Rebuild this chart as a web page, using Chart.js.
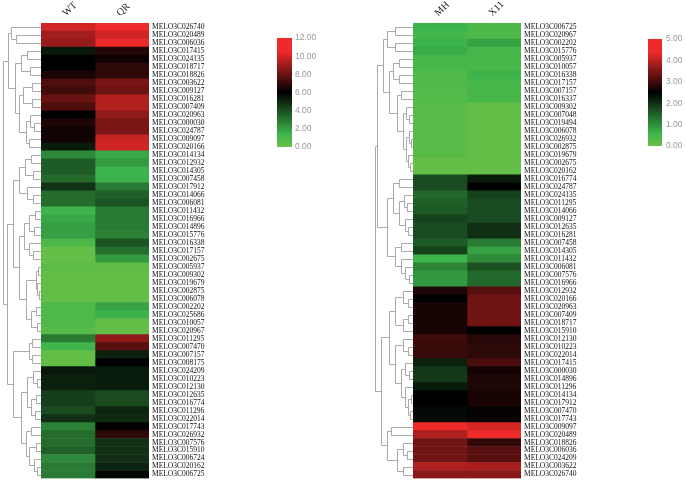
<!DOCTYPE html>
<html>
<head>
<meta charset="utf-8">
<script src="https://cdn.jsdelivr.net/npm/chart.js@4.4.1/dist/chart.umd.min.js"></script>
<style>
  html, body { margin: 0; padding: 0; background: #fff; width: 685px; height: 486px; overflow: hidden; }
  .box { position: absolute; }
</style>
</head>
<body>
<div class="box" style="left:0;top:0;width:260px;height:486px"><canvas id="heatL"></canvas></div>
<div class="box" style="left:372px;top:0;width:260px;height:486px"><canvas id="heatR"></canvas></div>
<div class="box" style="left:262px;top:30px;width:70px;height:125px"><canvas id="barL"></canvas></div>
<div class="box" style="left:633px;top:30px;width:52px;height:125px"><canvas id="barR"></canvas></div>
<script>
// 左图：WT / QR
const leftRows = ['MELO3C026740','MELO3C020489','MELO3C006036','MELO3C017415','MELO3C024135','MELO3C018717','MELO3C018826','MELO3C003622','MELO3C009127','MELO3C016281',
  'MELO3C007409','MELO3C020963','MELO3C000030','MELO3C024787','MELO3C009097','MELO3C020166','MELO3C014134','MELO3C012932','MELO3C014305','MELO3C007458',
  'MELO3C017912','MELO3C014066','MELO3C006081','MELO3C011432','MELO3C016966','MELO3C014896','MELO3C015776','MELO3C016338','MELO3C017157','MELO3C002675',
  'MELO3C005937','MELO3C009302','MELO3C019679','MELO3C002875','MELO3C006078','MELO3C002202','MELO3C025686','MELO3C010057','MELO3C020967','MELO3C011295',
  'MELO3C007470','MELO3C007157','MELO3C008175','MELO3C024209','MELO3C010223','MELO3C012130','MELO3C012635','MELO3C016774','MELO3C011296','MELO3C022014',
  'MELO3C017743','MELO3C026932','MELO3C007576','MELO3C015910','MELO3C006724','MELO3C020162','MELO3C006725'];
const leftCols = ['WT', 'QR'];
const wtVals = [10.0, 9.1, 8.9, 5.4, 6.0, 6.0, 6.5, 7.5, 7.2, 8.0,
  7.5, 6.0, 6.6, 6.3, 6.3, 5.3, 2.5, 3.7, 3.7, 3.3,
  4.7, 3.3, 3.3, 1.4, 1.75, 1.95, 1.95, 1.0, 0.2, 0.2,
  0.5, 0.3, 0.3, 0.3, 0.3, 0.9, 0.9, 0.9, 0.7, 2.9,
  1.3, 0.3, 0.3, 5.4, 5.2, 5.2, 4.4, 4.4, 4.1, 4.8,
  2.7, 3.3, 3.3, 3.6, 2.5, 2.9, 2.9];
const qrVals = [11.5, 10.0, 11.8, 6.7, 6.3, 6.9, 6.9, 8.3, 8.1, 9.4,
  9.4, 8.75, 8.3, 8.3, 9.8, 10.0, 1.75, 2.1, 1.4, 1.4,
  2.9, 3.6, 3.9, 2.9, 2.9, 2.9, 2.7, 3.9, 3.2, 2.1,
  0.4, 0.3, 0.3, 0.3, 0.3, 1.9, 1.5, 0.3, 0.3, 8.75,
  7.7, 5.2, 6.0, 5.3, 5.3, 5.3, 4.1, 4.1, 5.1, 4.9,
  6.0, 6.9, 4.8, 4.8, 4.8, 5.1, 5.8];
const leftTicks = [0, 2, 4, 6, 8, 10, 12];

// 右图：MH / X11
const rightRows = ['MELO3C006725','MELO3C020967','MELO3C002202','MELO3C015776','MELO3C005937','MELO3C010057','MELO3C016338','MELO3C017157','MELO3C007157','MELO3C016337',
  'MELO3C009302','MELO3C007048','MELO3C019494','MELO3C006078','MELO3C026932','MELO3C002875','MELO3C019679','MELO3C002675','MELO3C020162','MELO3C016774',
  'MELO3C024787','MELO3C024135','MELO3C011295','MELO3C014066','MELO3C009127','MELO3C012635','MELO3C016281','MELO3C007458','MELO3C014305','MELO3C011432',
  'MELO3C006081','MELO3C007576','MELO3C016966','MELO3C012932','MELO3C020166','MELO3C020963','MELO3C007409','MELO3C018717','MELO3C015910','MELO3C012130',
  'MELO3C010223','MELO3C022014','MELO3C017415','MELO3C000030','MELO3C014896','MELO3C011296','MELO3C014134','MELO3C017912','MELO3C007470','MELO3C017743',
  'MELO3C009097','MELO3C020489','MELO3C018826','MELO3C006036','MELO3C024209','MELO3C003622','MELO3C026740'];
const rightCols = ['MH', 'X11'];
const mhVals = [0.6, 0.5, 0.6, 0.7, 0.45, 0.45, 0.35, 0.35, 0.3, 0.3,
  0.25, 0.25, 0.25, 0.25, 0.25, 0.25, 0.25, 0.1, 0.1, 1.7,
  1.7, 1.4, 1.5, 1.55, 1.8, 1.7, 1.7, 1.55, 1.8, 0.6,
  1.1, 0.9, 0.9, 2.75, 2.5, 2.7, 2.7, 2.7, 2.7, 3.0,
  2.95, 2.95, 2.15, 1.9, 1.9, 2.2, 2.5, 2.5, 2.4, 2.4,
  4.5, 3.9, 3.4, 3.4, 3.4, 3.9, 3.6];
const x11Vals = [0.4, 0.4, 0.8, 0.5, 0.45, 0.45, 0.6, 0.5, 0.45, 0.45,
  0.12, 0.12, 0.12, 0.12, 0.12, 0.12, 0.12, 0.1, 0.1, 2.2,
  2.5, 1.8, 1.7, 1.7, 1.7, 2.0, 2.0, 1.2, 0.8, 1.05,
  1.65, 1.4, 1.4, 3.2, 3.4, 3.4, 3.4, 3.4, 2.5, 2.8,
  2.85, 2.85, 3.1, 2.65, 2.75, 2.75, 2.7, 2.7, 2.55, 2.55,
  4.2, 4.6, 2.9, 3.2, 3.2, 3.85, 3.6];
const rightTicks = [0, 1, 2, 3, 4, 5];

// 聚类树：[左, 右, 高度]，叶子为行号（从1开始）
const leftTree = [
  [ [1, [2, 3, 25], 30],
    [ [[4, 5, 14], [6, 7, 11], 20],
      [ [[8, 9, 9], [10, 11, 9], 18],
        [ [12, [13, 14, 7], 11], [15, 16, 12], 15], 22], 26], 33],
  [ [ [ [[17, 18, 10], [19, 20, 8], 16], [21, [22, 23, 8], 14], 22],
      [ [ [[24, 25, 6], [26, 27, 7], 12], [28, [29, 30, 8], 12], 17],
        [ [[31, 32, 3], [33, [34, 35, 2], 4], 5], [[36, 37, 5], [38, 39, 4], 10], 15], 22], 28],
    [ [[40, 41, 9], [42, 43, 9], 12],
      [ [[44, [45, 46, 4], 8], [[47, 48, 5], [49, 50, 6], 10], 14],
        [[51, 52, 10], [[53, 54, 5], [55, [56, 57, 4], 7], 12], 15], 20], 28], 34],
  38];
const rightTree = [
  [ [ [[1, 2, 18], [3, 4, 18], 26],
      [ [[5, 6, 14], [7, 8, 14], 20],
        [ [9, 10, 12], [ [11, [12, 13, 4], 7], [[14, [15, 16, 2], 4], [17, [18, 19, 3], 5], 7], 10], 16], 24], 30],
    [ [ [20, 21, 14], [[22, [23, 24, 6], 9], [25, [26, 27, 5], 8], 14], 20],
      [ [28, 29, 12], [30, [31, [32, 33, 4], 8], 12], 18], 26], 36],
  [ [ [ [34, [35, 36, 5], 10], [[37, 38, 5], 39, 10], 18],
      [ [40, [41, 42, 5], 10], [ [43, [44, 45, 4], 8], [46, [[47, 48, 2], [49, 50, 3], 5], 8], 12], 18], 24],
    [ [51, 52, 22], [ [53, [54, 55, 6], 10], [56, 57, 10], 16], 26], 32],
  39];

// 绿-黑-红 色带
const colorStops = [
  [0.00, 108, 192, 70],
  [0.12, 60, 180, 75],
  [0.50, 0, 0, 0],
  [0.88, 238, 42, 42],
  [1.00, 238, 42, 42]
];

function colorFor(f) {
  f = Math.max(0, Math.min(1, f));
  for (let i = 1; i < colorStops.length; i++) {
    const a = colorStops[i - 1], b = colorStops[i];
    if (f <= b[0]) {
      const t = (f - a[0]) / (b[0] - a[0] || 1);
      const c = [1, 2, 3].map(k => Math.round(a[k] + (b[k] - a[k]) * t));
      return `rgb(${c[0]},${c[1]},${c[2]})`;
    }
  }
  return 'rgb(238,42,42)';
}

function makeDendro(tree, rootX) {
  return {
    id: 'dendro',
    afterDraw(chart) {
      const yScale = chart.scales.y;
      const area = chart.chartArea;
      const ctx = chart.ctx;
      const maxH = tree[2];
      const xOf = h => area.left - h * (area.left - rootX) / maxH;
      ctx.save();
      ctx.strokeStyle = '#aaaaaa';
      ctx.lineWidth = 1;
      ctx.beginPath();
      const walk = node => {
        if (typeof node === 'number') {
          return { y: yScale.getPixelForValue(node - 1), x: area.left };
        }
        const a = walk(node[0]);
        const b = walk(node[1]);
        const x = Math.round(xOf(node[2])) + 0.5;
        const ya = Math.round(a.y) + 0.5;
        const yb = Math.round(b.y) + 0.5;
        ctx.moveTo(a.x, ya);
        ctx.lineTo(x, ya);
        ctx.lineTo(x, yb);
        ctx.lineTo(b.x, yb);
        return { y: (a.y + b.y) / 2, x: x };
      };
      walk(tree);
      ctx.stroke();
      ctx.restore();
    }
  };
}

function heatChart(id, rows, cols, vals, vmax, tree) {
  const datasets = cols.map((name, c) => ({
    label: name,
    data: vals[c].map(() => [c, c + 1]),
    backgroundColor: vals[c].map(v => colorFor(v / vmax)),
    borderWidth: 0,
    grouped: false,
    barPercentage: 1,
    categoryPercentage: 1
  }));
  return new Chart(document.getElementById(id), {
    type: 'bar',
    data: { labels: rows, datasets: datasets },
    options: {
      indexAxis: 'y',
      responsive: true,
      maintainAspectRatio: false,
      animation: false,
      layout: { padding: { left: 41, top: 0, right: 0, bottom: 3 } },
      plugins: { legend: { display: false }, tooltip: { enabled: false } },
      scales: {
        x: {
          type: 'linear',
          position: 'top',
          min: 0,
          max: cols.length,
          afterBuildTicks: ax => { ax.ticks = cols.map((_, i) => ({ value: i + 0.5 })); },
          afterFit: ax => { ax.height = 23; },
          grid: { display: false, drawTicks: false },
          border: { display: false },
          ticks: {
            autoSkip: false,
            minRotation: 45,
            maxRotation: 45,
            padding: 4,
            labelOffset: 5,
            color: '#222',
            font: { family: 'Liberation Serif', size: 10 },
            callback: v => cols[Math.round(v - 0.5)]
          }
        },
        y: {
          position: 'right',
          afterFit: ax => { ax.width = 111; },
          grid: { display: false, drawTicks: false },
          border: { display: false },
          ticks: {
            autoSkip: false,
            padding: 3,
            color: '#111',
            font: { family: 'Liberation Serif', size: 7.5 }
          }
        }
      }
    },
    plugins: [makeDendro(tree, 2.5)]
  });
}

function colorBar(id, ticks, axisWidth, pad) {
  const vmax = ticks[ticks.length - 1];
  return new Chart(document.getElementById(id), {
    type: 'bar',
    data: {
      labels: [''],
      datasets: [{
        data: [vmax],
        borderWidth: 0,
        barPercentage: 1,
        categoryPercentage: 1,
        backgroundColor: ctx => {
          const area = ctx.chart.chartArea;
          if (!area) return null;
          const g = ctx.chart.ctx.createLinearGradient(0, area.bottom, 0, area.top);
          colorStops.forEach(s => g.addColorStop(s[0], `rgb(${s[1]},${s[2]},${s[3]})`));
          return g;
        }
      }]
    },
    options: {
      responsive: true,
      maintainAspectRatio: false,
      animation: false,
      layout: { padding: { left: 15, top: 8, right: 0, bottom: 8 } },
      plugins: { legend: { display: false }, tooltip: { enabled: false } },
      scales: {
        x: { display: false },
        y: {
          position: 'right',
          min: 0,
          max: vmax,
          afterBuildTicks: ax => { ax.ticks = ticks.map(v => ({ value: v })); },
          afterFit: ax => { ax.width = axisWidth; },
          grid: { display: false, drawTicks: false },
          border: { display: false },
          ticks: {
            padding: pad,
            color: '#999',
            font: { family: 'Liberation Sans', size: 8.5 },
            callback: v => Number(v).toFixed(2)
          }
        }
      }
    }
  });
}

heatChart('heatL', leftRows, leftCols, [wtVals, qrVals], 12, leftTree);
heatChart('heatR', rightRows, rightCols, [mhVals, x11Vals], 5, rightTree);
colorBar('barL', leftTicks, 40, 3);
colorBar('barR', rightTicks, 23, 4);
</script>
</body>
</html>
